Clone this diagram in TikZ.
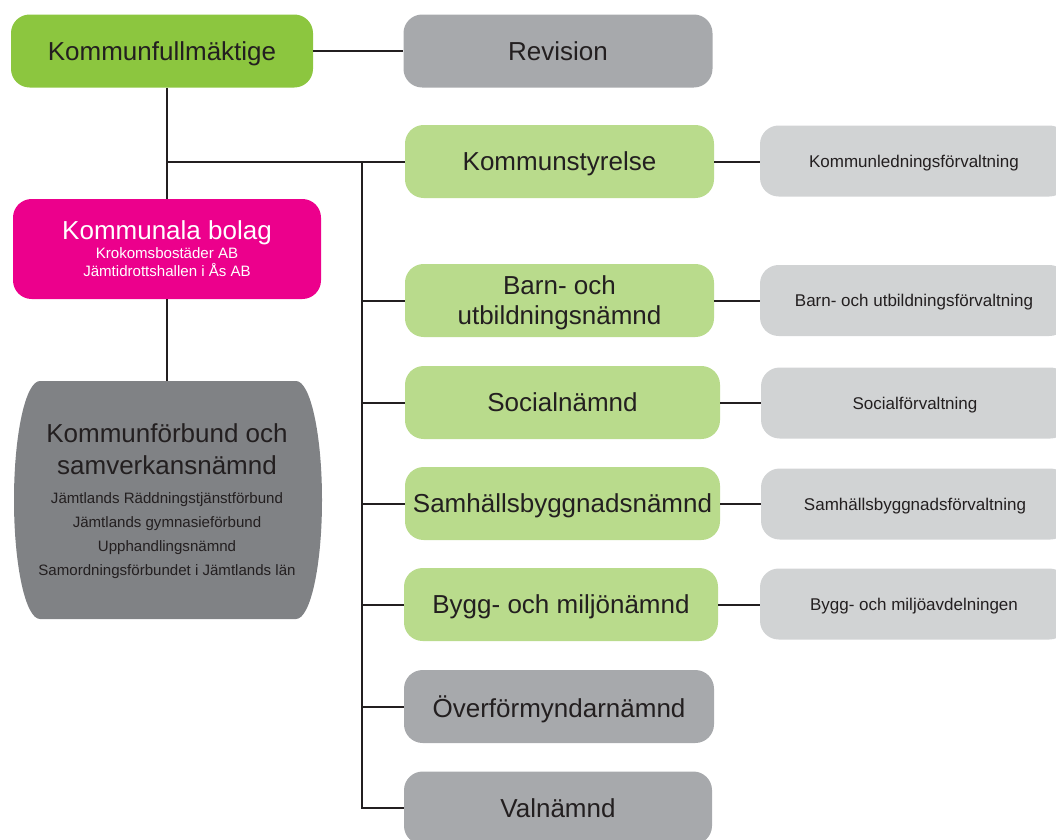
\documentclass[tikz,border=0pt]{standalone}
\usepackage{fontspec}
\setmainfont{Liberation Sans}
\usetikzlibrary{positioning}

\definecolor{kfgreen}{HTML}{8CC63F}
\definecolor{lightgreen}{HTML}{B9DB8C}
\definecolor{midgray}{HTML}{A7A9AC}
\definecolor{lightgray}{HTML}{D1D3D4}
\definecolor{darkgray}{HTML}{808285}
\definecolor{bolagpink}{HTML}{EC008C}
\definecolor{ink}{HTML}{231F20}

\newcommand\keepbaselines{\lineskiplimit -100pt\relax}

\tikzset{
  box/.style={rectangle, rounded corners=14pt, inner sep=0pt, text=ink, align=center,
    text depth=0pt, font=\fontsize{19.5}{22.5}\selectfont\keepbaselines, minimum height=54.75pt},
  board/.style={box, fill=lightgreen, minimum width=231.75pt},
  other/.style={box, fill=midgray, minimum width=231.75pt},
  office/.style={box, fill=lightgray, minimum width=231pt, minimum height=53.25pt,
    font=\fontsize{12.75}{15}\selectfont},
  link/.style={draw=ink, line width=1.5pt},
}

\begin{document}
\begin{tikzpicture}[x=0.75pt, y=-0.75pt]
            \useasboundingbox (0,0) rectangle (1056,839);
            \clip (0,0) rectangle (1056,839);

            % Shape behind the left bottom box
            \fill[darkgray] (40,381) -- (296,381)
              .. controls (310.4,381) and (322,434.3) .. (322,500)
              .. controls (322,565.7) and (310.4,619) .. (296,619) -- (40,619)
              .. controls (25.6,619) and (14,565.7) .. (14,500)
              .. controls (14,434.3) and (25.6,381) .. (40,381) -- cycle;

            % Nodes
            \node[box, fill=kfgreen, minimum width=226.5pt] (kf) at (162,51) {Kommunfullmäktige};
            \node[other] (rev) at (558,51) {Revision};
            \node[box, fill=bolagpink, text=white, minimum width=231pt, minimum height=75pt,
              font=\fontsize{11.3}{13.6}\selectfont\keepbaselines] (bolag) at (167,249)
              {{\fontsize{19.5}{24}\selectfont Kommunala bolag}\\[0.6pt]
               Krokomsbostäder AB\\ Jämtidrottshallen i Ås AB};
            \node[box, minimum width=231pt, minimum height=178.5pt,
              font=\fontsize{11.3}{18}\selectfont\keepbaselines] (kfb) at (167,500)
              {{\fontsize{19.5}{24}\selectfont Kommunförbund och}\\[6pt]
               {\fontsize{19.5}{24}\selectfont samverkansnämnd}\\[3.75pt]
               Jämtlands Räddningstjänstförbund\\
               Jämtlands gymnasieförbund\\
               Upphandlingsnämnd\\
               Samordningsförbundet i Jämtlands län};

            \node[board] (ks) at (559.5,161.5) {Kommunstyrelse};
            \node[board] (bu) at (559.5,300.5) {Barn- och\\ utbildningsnämnd};
            \node[board, minimum width=236.25pt] (soc) at (562.5,402.5) {Socialnämnd};
            \node[board, minimum width=236.25pt] (sam) at (562.5,503.5) {Samhällsbyggnadsnämnd};
            \node[board, minimum width=235.5pt] (bm) at (561,604.5) {Bygg- och miljönämnd};
            \node[other, minimum width=232.5pt] (ov) at (559,706.5) {Överförmyndarnämnd};
            \node[other, minimum width=231pt] (val) at (558,808) {Valnämnd};

            \node[office] (kl) at (914,161) {Kommunledningsförvaltning};
            \node[office] (buf) at (914,300.5) {Barn- och utbildningsförvaltning};
            \node[office] (socf) at (915,403) {Socialförvaltning};
            \node[office] (samf) at (915,504) {Samhällsbyggnadsförvaltning};
            \node[office] (bmf) at (914,604) {Bygg- och miljöavdelningen};

            \coordinate (trunk) at (362,0);

            % Edges
            \draw[link] (kf) -- (rev);
            \draw[link] (kf.south -| bolag) -- (bolag);
            \draw[link] (bolag) -- (kfb.north);
            \draw[link] (bolag.north |- ks) -- (ks);
            \draw[link] (trunk |- ks) |- (val);
            \foreach \n in {bu,soc,sam,bm,ov}
              \draw[link] (trunk |- \n) -- (\n);
            \foreach \a/\b in {ks/kl,bu/buf,soc/socf,sam/samf,bm/bmf}
              \draw[link] (\a.east) -- (\a.east -| \b.west);
        \end{tikzpicture}
\end{document}
